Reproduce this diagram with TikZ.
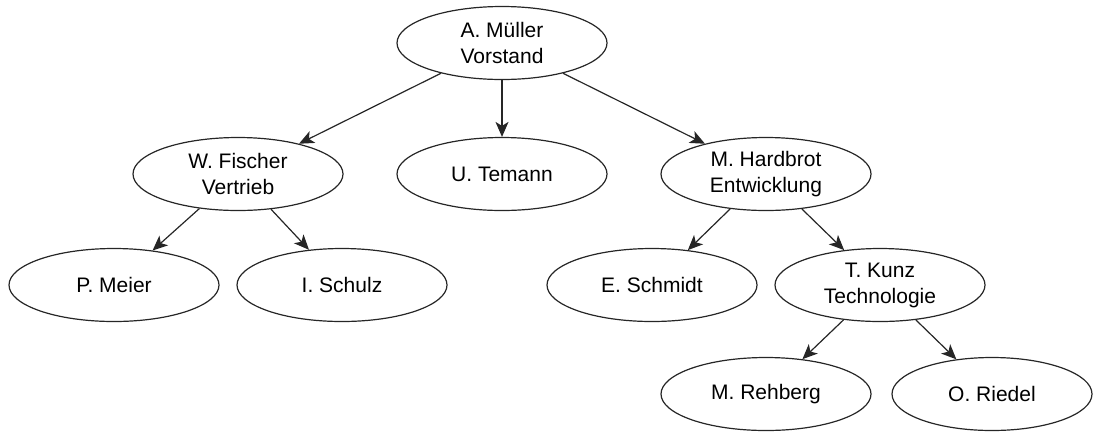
\documentclass[tikz,border=0pt]{standalone}
\usepackage{fontspec}
\setmainfont{Liberation Sans}
\usetikzlibrary{shapes.geometric,arrows.meta}
\begin{document}
\begin{tikzpicture}[x=1pt,y=-1pt,
  person/.style={ellipse,draw=black!85,line width=1.2pt,fill=white,
    minimum width=210pt,minimum height=73pt,inner sep=0pt,
    align=center,font=\fontsize{21}{26}\selectfont},
  link/.style={draw=black!85,line width=1.2pt,-{Stealth[length=15pt,width=13pt,inset=4pt]}}]
\useasboundingbox (0,0) rectangle (1094,432);
\node[person] (A) at (502,43) {A. Müller\\Vorstand};
\node[person] (W) at (238,174) {W. Fischer\\Vertrieb};
\node[person] (U) at (502,174) {U. Temann};
\node[person] (H) at (766,174) {M. Hardbrot\\Entwicklung};
\node[person] (P) at (114,285) {P. Meier};
\node[person] (S) at (342,285) {I. Schulz};
\node[person] (E) at (652,285) {E. Schmidt};
\node[person] (K) at (880,285) {T. Kunz\\Technologie};
\node[person] (R) at (766,394) {M. Rehberg};
\node[person,minimum width=200pt] (O) at (992,394) {O. Riedel};
\draw[link] (A) -- (W);
\draw[link] (A) -- (U);
\draw[link] (A) -- (H);
\draw[link] (W) -- (P);
\draw[link] (W) -- (S);
\draw[link] (H) -- (E);
\draw[link] (H) -- (K);
\draw[link] (K) -- (R);
\draw[link] (K) -- (O);
\end{tikzpicture}
\end{document}
